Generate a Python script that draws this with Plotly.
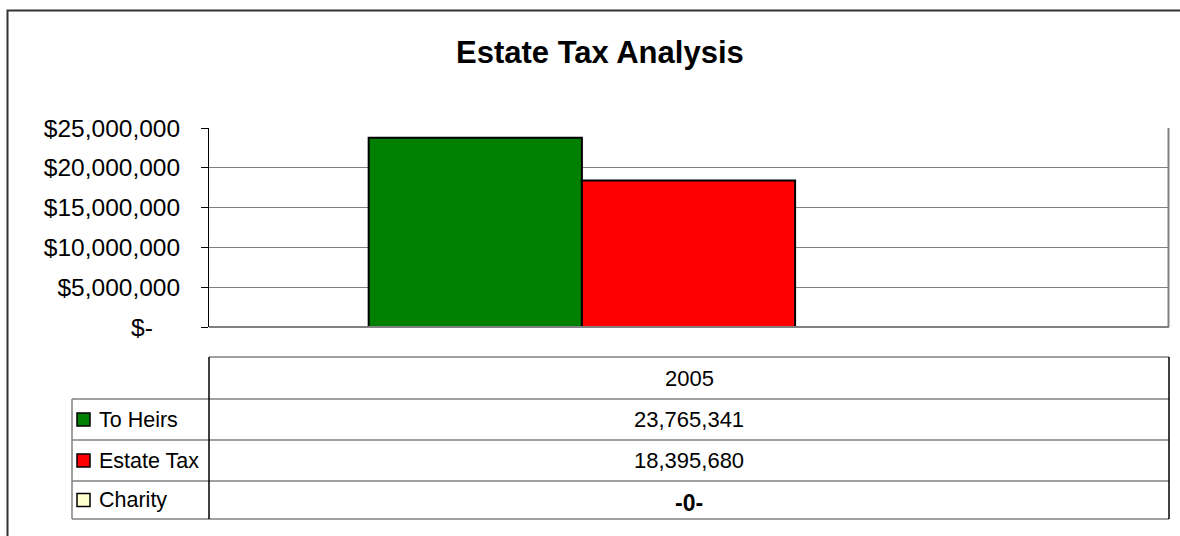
import plotly.graph_objects as go

# ---- data ----
title = "Estate Tax Analysis"
categories = ["2005"]
series_names = ["To Heirs", "Estate Tax", "Charity"]
series_values = [[23765341], [18395680], [0]]
series_colors = ["#008000", "#FF0000", "#FFFFCC"]
y_tick_vals = [0, 5000000, 10000000, 15000000, 20000000, 25000000]
y_tick_text = ["$-\u00a0\u00a0\u00a0\u00a0", "$5,000,000", "$10,000,000", "$15,000,000",
               "$20,000,000", "$25,000,000"]

W, H = 1180, 536
FONT = "Arial, Liberation Sans, Helvetica, sans-serif"


def px(x):
    return x / W


def py(y):
    return 1 - y / H


# plot area in pixels
PL, PR, PT, PB = 209, 1168, 128, 327

fig = go.Figure()
for name, vals, col in zip(series_names, series_values, series_colors):
    fig.add_trace(go.Bar(
        x=categories, y=vals, name=name,
        marker=dict(color=col, line=dict(color="#000000", width=2 if max(vals) > 0 else 0)),
        hoverinfo="x+y+name",
    ))

fig.update_layout(
    width=W, height=H, autosize=False,
    margin=dict(l=0, r=0, t=0, b=0, pad=0, autoexpand=False),
    paper_bgcolor="white", plot_bgcolor="white",
    barmode="group", bargap=0.333, bargroupgap=0,
    showlegend=False,
    font=dict(family=FONT, color="#000000"),
    xaxis=dict(domain=[px(PL), px(PR)], showticklabels=False, ticks="", automargin=False,
               showgrid=False, zeroline=False, showline=False, fixedrange=True),
    yaxis=dict(domain=[py(PB), py(PT)], range=[0, 25000000], automargin=False,
               tickvals=y_tick_vals, ticktext=y_tick_text,
               ticks="outside", ticklen=7, tickcolor="#000000", tickwidth=1,
               ticklabelstandoff=16,
               tickfont=dict(size=24.5, family=FONT, color="#000000"),
               showgrid=True, gridcolor="#808080", gridwidth=1,
               zeroline=False, showline=True, linecolor="#000000", linewidth=1,
               fixedrange=True),
)

shapes = []
# outer chart frame (extends beyond the picture right/bottom)
shapes.append(dict(type="rect", xref="paper", yref="paper",
                   x0=px(7.5), x1=px(1200), y0=py(560), y1=py(10.5),
                   line=dict(color="#333333", width=2), layer="below"))
# plot area border: bottom and right in gray
shapes.append(dict(type="line", xref="paper", yref="paper",
                   x0=px(PL), x1=px(PR + 1), y0=py(PB), y1=py(PB),
                   line=dict(color="#808080", width=2)))
shapes.append(dict(type="line", xref="paper", yref="paper",
                   x0=px(PR + 0.5), x1=px(PR + 0.5), y0=py(PB), y1=py(PT),
                   line=dict(color="#808080", width=2)))

# ---- data table ----
TL, TV, TR = 72, 209, 1169
row_y = [357, 399, 440, 481, 519]
line_gray = dict(color="#808080", width=1.5)
shapes.append(dict(type="line", xref="paper", yref="paper",
                   x0=px(TV), x1=px(TR), y0=py(row_y[0]), y1=py(row_y[0]), line=line_gray))
for yy in row_y[1:]:
    shapes.append(dict(type="line", xref="paper", yref="paper",
                       x0=px(TL), x1=px(TR), y0=py(yy), y1=py(yy), line=line_gray))
shapes.append(dict(type="line", xref="paper", yref="paper",
                   x0=px(TL), x1=px(TL), y0=py(row_y[1]), y1=py(row_y[-1]), line=line_gray))
shapes.append(dict(type="line", xref="paper", yref="paper",
                   x0=px(TV), x1=px(TV), y0=py(row_y[0]), y1=py(row_y[-1]),
                   line=dict(color="#000000", width=1.5)))
shapes.append(dict(type="line", xref="paper", yref="paper",
                   x0=px(TR), x1=px(TR), y0=py(row_y[0]), y1=py(row_y[-1]),
                   line=dict(color="#000000", width=1.5)))

annotations = []
annotations.append(dict(text="<b>" + title + "</b>", xref="paper", yref="paper",
                        x=px(600), y=py(53), xanchor="center", yanchor="middle",
                        showarrow=False, font=dict(size=31, family=FONT, color="#000000")))
mid_x = (TV + TR) / 2
TFS = 22
annotations.append(dict(text=categories[0], xref="paper", yref="paper",
                        x=px(mid_x), y=py((row_y[0] + row_y[1]) / 2), xanchor="center",
                        yanchor="middle", showarrow=False,
                        font=dict(size=TFS, family=FONT, color="#000000")))
for i, (name, vals, col) in enumerate(zip(series_names, series_values, series_colors)):
    y0, y1 = row_y[i + 1], row_y[i + 2]
    yc = (y0 + y1) / 2
    shapes.append(dict(type="rect", xref="paper", yref="paper",
                       x0=px(77), x1=px(90), y0=py(yc + 6.5), y1=py(yc - 6.5),
                       fillcolor=col, line=dict(color="#000000", width=1.5)))
    annotations.append(dict(text=name, xref="paper", yref="paper",
                            x=px(97), y=py(yc), xanchor="left", yanchor="middle",
                            showarrow=False, font=dict(size=21.5, family=FONT, color="#000000")))
    v = vals[0]
    txt = f"{v:,}" if v != 0 else "<b>-0-</b>"
    annotations.append(dict(text=txt, xref="paper", yref="paper",
                            x=px(mid_x), y=py(yc + (3 if v == 0 else 0)), xanchor="center",
                            yanchor="middle", showarrow=False,
                            font=dict(size=TFS if v != 0 else 23, family=FONT, color="#000000")))

fig.update_layout(shapes=shapes, annotations=annotations)
fig.write_html("out.html")
